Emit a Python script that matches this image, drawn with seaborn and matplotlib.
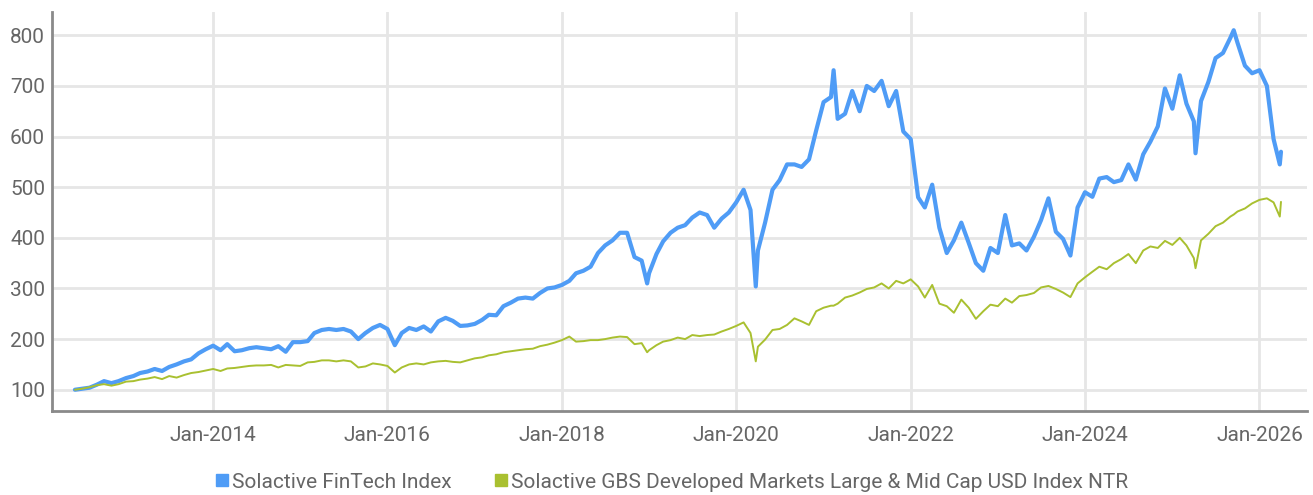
import pandas as pd
import numpy as np
import seaborn as sns
import matplotlib.pyplot as plt
import matplotlib.dates as mdates
from matplotlib.lines import Line2D

# Monthly index levels (first of month), Jun-2012 .. Apr-2026
fintech = [
    100, 102, 104, 110, 117, 113, 117,                                  # 2012
    123, 127, 133, 136, 141, 137, 145, 150, 156, 160, 172, 180,         # 2013
    187, 178, 190, 176, 178, 182, 184, 182, 180, 186, 175, 194,         # 2014
    194, 196, 212, 218, 220, 218, 220, 215, 200, 212, 222, 228,         # 2015
    220, 188, 212, 222, 218, 225, 215, 235, 242, 236, 226, 227,         # 2016
    230, 238, 248, 247, 265, 272, 280, 282, 280, 291, 300, 302,         # 2017
    307, 315, 330, 335, 343, 370, 385, 395, 410, 410, 362, 355,         # 2018
    330, 368, 393, 410, 420, 425, 440, 450, 445, 420, 438, 450,         # 2019
    470, 495, 455, 375, 430, 495, 514, 545, 545, 540, 555, 612,         # 2020
    668, 678, 635, 645, 690, 650, 700, 690, 710, 660, 690, 610,         # 2021
    595, 480, 460, 505, 420, 370, 395, 430, 390, 350, 335, 380,         # 2022
    370, 445, 385, 389, 375, 402, 435, 478, 412, 398, 365, 460,         # 2023
    490, 481, 517, 520, 510, 514, 545, 515, 565, 590, 620, 695,         # 2024
    655, 721, 665, 630, 670, 708, 755, 765, 795, 785, 740, 725,         # 2025
    731, 700, 595, 570,                                                 # 2026
]
gbs = [
    100, 102, 105, 109, 111, 108, 111,
    116, 117, 120, 122, 125, 121, 127, 124, 129, 133, 135, 138,
    141, 137, 142, 143, 145, 147, 148, 148, 149, 144, 149, 148,
    147, 154, 155, 158, 158, 156, 158, 156, 144, 146, 152, 150,
    147, 134, 144, 150, 152, 150, 154, 156, 157, 155, 154, 158,
    162, 164, 168, 170, 174, 176, 178, 180, 181, 186, 189, 193,
    198, 205, 195, 196, 198, 198, 200, 203, 205, 204, 190, 192,
    178, 188, 195, 198, 203, 200, 208, 206, 208, 209, 215, 220,
    226, 233, 212, 185, 199, 218, 220, 228, 241, 235, 228, 255,
    262, 266, 270, 282, 286, 292, 299, 302, 310, 300, 315, 310,
    318, 304, 282, 307, 270, 265, 252, 278, 262, 240, 255, 268,
    265, 280, 272, 285, 287, 291, 302, 305, 299, 292, 283, 310,
    322, 333, 343, 338, 350, 358, 368, 350, 375, 383, 380, 394,
    386, 400, 385, 360, 395, 408, 423, 430, 442, 452, 458, 468,
    475, 478, 470, 471,
]
# a few intra-month extremes that the monthly points would miss
extra_dates = ["2018-12-24", "2020-03-23", "2021-02-12", "2025-04-08", "2025-09-15", "2026-03-27"]
extra_fintech = [310, 304, 731, 567, 810, 545]
extra_gbs = [174, 156, 266, 340, 446, 442]

names = ["Solactive FinTech Index",
         "Solactive GBS Developed Markets Large & Mid Cap USD Index NTR"]
colors = ["#4f9cf6", "#a9c030"]

dates = pd.date_range("2012-06-01", "2026-04-01", freq="MS")
df = pd.DataFrame({"date": dates, "fintech": fintech, "gbs": gbs})
extra = pd.DataFrame({"date": pd.to_datetime(extra_dates),
                      "fintech": extra_fintech, "gbs": extra_gbs})
df = pd.concat([df, extra]).sort_values("date").reset_index(drop=True)

sns.set_style("white")
plt.rcParams['font.family'] = ['Roboto', 'DejaVu Sans']

fig = plt.figure(figsize=(13.13, 4.95), dpi=100)
ax = fig.add_axes([52/1313, 1 - 411/495, (1307 - 52)/1313, (411 - 12)/495])

sns.lineplot(data=df, x="date", y="fintech", color=colors[0], lw=3.0, ax=ax)
sns.lineplot(data=df, x="date", y="gbs", color=colors[1], lw=1.4, ax=ax)

ax.set_xlim(pd.Timestamp("2012-02-26"), pd.Timestamp("2026-07-19"))
ax.set_ylim(58, 846)
ax.set_yticks(range(100, 900, 100))
ax.xaxis.set_major_locator(mdates.YearLocator(2, month=1, day=1))
ax.xaxis.set_major_formatter(mdates.DateFormatter("%b-%Y"))
ax.set_xlabel("")
ax.set_ylabel("")

ax.set_axisbelow(True)
ax.grid(True, color="#e6e6e6", lw=2)
for s in ["top", "right"]:
    ax.spines[s].set_visible(False)
for s in ["left", "bottom"]:
    ax.spines[s].set_color("#8a8a8a")
    ax.spines[s].set_linewidth(2)
ax.tick_params(length=0, labelsize=15, labelcolor="#666666")
ax.tick_params(axis="x", pad=11)
ax.tick_params(axis="y", pad=5)

handles = [Line2D([], [], marker="s", ls="none", color=c, markersize=9) for c in colors]
leg = fig.legend(handles, names, loc="center", bbox_to_anchor=(0.511, 0.026),
                 ncol=2, frameon=False, fontsize=15, handletextpad=0.05,
                 columnspacing=2.0, handlelength=0.8)
for t in leg.get_texts():
    t.set_color("#666666")

plt.savefig("out.png", dpi=100)
